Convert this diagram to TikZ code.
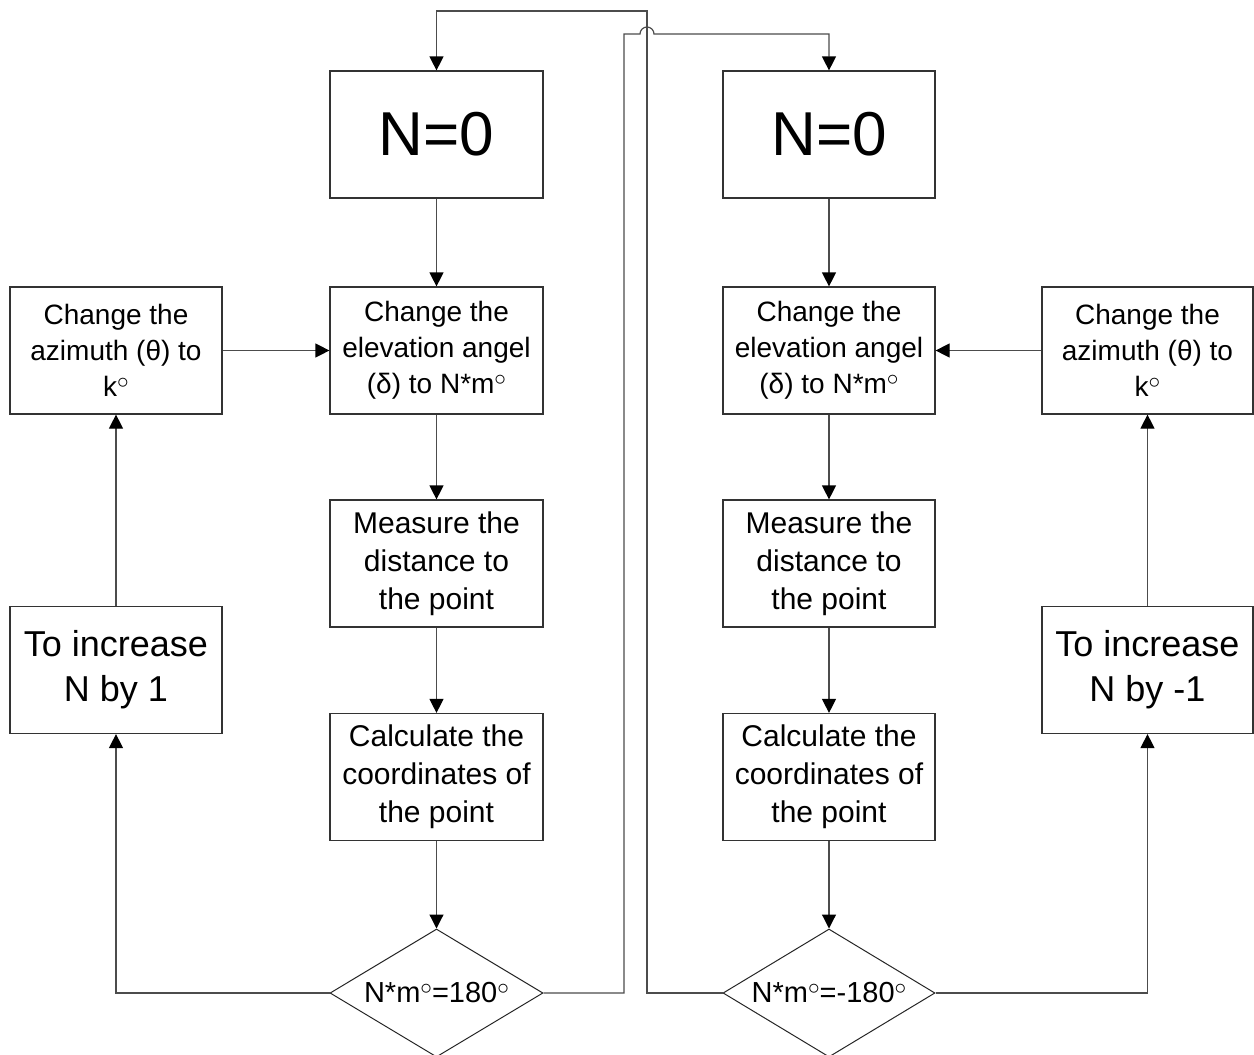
\documentclass[tikz,border=0pt]{standalone}
\usepackage{fontspec}
\setmainfont{Liberation Sans}
\usetikzlibrary{shapes.geometric,arrows.meta}
\begin{document}
\begin{tikzpicture}[x=1pt,y=-1pt,
  box/.style={draw=black!80,line width=1.2pt,rectangle,inner sep=0pt,align=center,
    minimum width=213pt,minimum height=127pt},
  smallbox/.style={box,font=\fontsize{28}{36}\selectfont},
  midbox/.style={box,font=\fontsize{30}{38}\selectfont},
  bigbox/.style={box,font=\fontsize{36}{45}\selectfont},
  startbox/.style={box,font=\fontsize{62}{70}\selectfont},
  decision/.style={draw=black!85,line width=1pt,diamond,aspect=1.66,inner sep=0pt,
    minimum width=213pt,minimum height=128pt,font=\fontsize{29}{34}\selectfont},
  conn/.style={draw=black!70,line width=1.2pt},
  arr/.style={conn,-{Triangle[length=14pt,width=14pt,color=black]}}
]
\useasboundingbox (0,0) rectangle (1254,1055);
\def\dg{\smash{\raisebox{0.3em}{\scalebox{1.12}{$\scriptstyle\circ$}}}}
% left column
\node[startbox] (n0L) at (436.5,134.5) {N=0};
\node[smallbox] (elL) at (436.5,350.5) {Change the\\elevation angel\\(δ) to N*m\dg};
\node[midbox] (meL) at (436.5,563.5) {Measure the\\distance to\\the point};
\node[midbox] (caL) at (436.5,777) {Calculate the\\coordinates of\\the point};
\node[decision] (dL) at (436.5,993) {N*m\dg=180\dg};
\node[smallbox,minimum width=212pt] (azL) at (116,350.5) {Change the\\azimuth (θ) to\\k\dg};
\node[bigbox,minimum width=212pt] (inL) at (116,670) {To increase\\N by 1};
% right column
\node[startbox,minimum width=212pt] (n0R) at (829,134.5) {N=0};
\node[smallbox,minimum width=212pt] (elR) at (829,350.5) {Change the\\elevation angel\\(δ) to N*m\dg};
\node[midbox,minimum width=212pt] (meR) at (829,563.5) {Measure the\\distance to\\the point};
\node[midbox,minimum width=212pt] (caR) at (829,777) {Calculate the\\coordinates of\\the point};
\node[decision,minimum width=212pt] (dR) at (829,993) {N*m\dg=-180\dg};
\node[smallbox,minimum width=211pt] (azR) at (1147.5,350.5) {Change the\\azimuth (θ) to\\k\dg};
\node[bigbox,minimum width=211pt] (inR) at (1147.5,670) {To increase\\N by -1};
% coordinates for routing
\coordinate (a1) at (624,993);
\coordinate (a2) at (624,34);
\coordinate (hop) at (640,34);
\coordinate (a3) at (829,34);
\coordinate (b1) at (647,993);
\coordinate (b2) at (647,11);
\coordinate (b3) at (436.5,11);
\coordinate (c1) at (116,993);
\coordinate (d1) at (1147.5,993);
% vertical flows
\draw[arr] (n0L) -- (elL);
\draw[arr] (elL) -- (meL);
\draw[arr] (meL) -- (caL);
\draw[arr] (caL) -- (dL);
\draw[arr] (n0R) -- (elR);
\draw[arr] (elR) -- (meR);
\draw[arr] (meR) -- (caR);
\draw[arr] (caR) -- (dR);
% left loop
\draw[arr] (dL.west) -- (c1) -- (inL.south);
\draw[arr] (inL) -- (azL);
\draw[arr] (azL) -- (elL);
% right loop
\draw[arr] (dR.east) -- (d1) -- (inR.south);
\draw[arr] (inR) -- (azR);
\draw[arr] (azR) -- (elR);
% cross connections
\draw[arr] (dR.west) -- (b1) -- (b2) -- (b3) -- (n0L.north);
\draw[arr] (dL.east) -- (a1) -- (a2) -- (hop) arc[start angle=180,end angle=360,radius=7] -- (a3) -- (n0R.north);
\end{tikzpicture}
\end{document}
